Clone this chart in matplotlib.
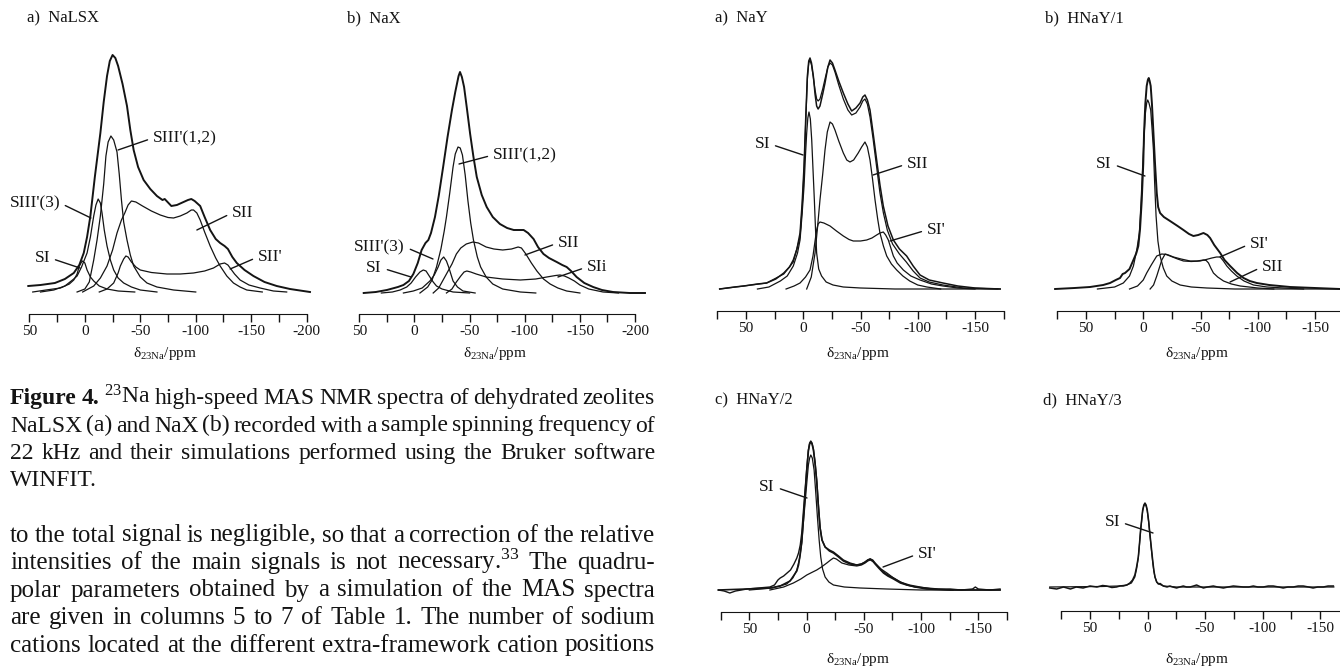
import numpy as np
import matplotlib
matplotlib.use("Agg")
import matplotlib.pyplot as plt
from matplotlib.ticker import MultipleLocator

plt.rcParams["font.family"] = ["Liberation Serif", "DejaVu Serif"]
plt.rcParams["mathtext.fontset"] = "custom"
plt.rcParams["mathtext.rm"] = "Liberation Serif"
plt.rcParams["mathtext.it"] = "Liberation Serif:italic"
plt.rcParams["mathtext.bf"] = "Liberation Serif:bold"
plt.rcParams["mathtext.default"] = "regular"
plt.rcParams["axes.unicode_minus"] = False

INK = "#141414"

# ---- spectra: (ppm, intensity a.u.) ----
# Figure 4a  NaLSX
nalsx_total = [(51, 6), (40, 7), (27, 9), (18, 13), (10, 19), (5, 27), (1, 39), (-2, 55), (-5, 76),
               (-9, 115), (-14, 159), (-17, 190), (-20, 216), (-22.5, 231), (-25, 237), (-27.5, 234),
               (-30, 226), (-34, 208), (-38, 186), (-41, 162), (-44, 142), (-48, 125), (-53, 112),
               (-59, 103), (-65, 96), (-70, 92), (-72, 93), (-78, 86), (-83, 87), (-89, 90), (-93, 92),
               (-96, 93), (-99, 91), (-104, 86), (-108, 75), (-113, 62), (-118, 53), (-122, 49),
               (-126, 46), (-129, 43), (-133, 35), (-137, 29), (-144, 22), (-152, 16), (-162, 10),
               (-173, 6), (-185, 3), (-203, 0)]
nalsx_s3_12 = [(7, 0), (0, 3), (-4, 10), (-8, 32), (-11, 52), (-14, 76), (-17, 108), (-19, 136),
               (-21, 150), (-23.5, 156), (-26, 152), (-29, 140), (-31, 118), (-33, 92), (-35, 70),
               (-38, 52), (-41, 37), (-44, 26), (-50, 15), (-56, 9), (-65, 5), (-80, 2), (-100, 0)]
nalsx_sii = [(2, 0), (-8, 6), (-14, 14), (-20, 26), (-25, 42), (-29, 59), (-33, 72), (-36, 79),
             (-39, 87), (-42, 91), (-46, 90), (-52, 86), (-60, 81), (-68, 77), (-75, 74.5), (-80, 74),
             (-86, 76), (-92, 79), (-96, 82), (-98, 82), (-101, 79), (-104, 72), (-108, 60),
             (-113, 46), (-118, 34), (-122, 26), (-128, 16), (-134, 9), (-140, 5), (-146, 2), (-160, 0)]
nalsx_s3_3 = [(40, 0), (28, 2), (18, 6), (10, 13), (7, 16), (3, 25), (-2, 39), (-5, 55), (-8, 76),
              (-10, 87), (-12, 93), (-14, 89), (-15.5, 79), (-17.5, 62), (-20, 46), (-23, 32),
              (-26, 22), (-30, 14), (-35, 9), (-42, 5), (-50, 2), (-65, 0)]
nalsx_si = [(47, 0), (35, 2), (22, 4), (14, 8), (10, 12), (7, 18), (5, 26), (3, 30), (2, 31), (0, 29),
            (-2, 22), (-5, 15), (-8, 11), (-13, 6), (-20, 3), (-30, 1), (-45, 0)]
nalsx_sii2 = [(-13, 0), (-20, 3), (-26, 9), (-30, 19), (-32, 26), (-35, 33), (-37, 36), (-39, 35),
              (-42, 30), (-46, 25), (-50, 22), (-60, 19.5), (-74, 18), (-86, 18), (-98, 19),
              (-108, 21), (-116, 24), (-122, 28), (-126, 29), (-129, 27), (-131, 24), (-135, 18),
              (-140, 12), (-148, 7), (-158, 4), (-170, 1), (-182, 0)]

# Figure 4b  NaX
nax_total = [(46, 0), (35, 1), (25, 3), (15, 6), (10, 8), (5, 12), (1, 19), (-3, 30), (-6.5, 43),
             (-10, 50), (-12.6, 53), (-15, 60), (-18.6, 76), (-22, 97), (-26, 126), (-30, 156),
             (-34, 183), (-37, 201), (-38.5, 209), (-40, 217), (-41.3, 221), (-43, 216), (-45, 206),
             (-47.5, 185), (-50.5, 159), (-53.5, 136), (-56.5, 116), (-61, 98), (-65.5, 86), (-71, 76),
             (-77.5, 69), (-84, 65), (-90, 63), (-96, 63), (-99, 63), (-103, 60), (-108, 54),
             (-112, 46), (-117, 39), (-122, 35), (-129, 31), (-134, 28), (-138, 26), (-142, 22),
             (-147, 16), (-154, 10), (-162, 6), (-170, 3), (-180, 1), (-195, 0), (-209, 0)]
nax_s3_12 = [(-5, 0), (-12, 6), (-16, 13), (-20, 26), (-24, 44), (-27, 62), (-29, 76), (-32, 100),
             (-35, 126), (-37, 139), (-39.5, 146), (-41.5, 145), (-43.5, 138), (-46, 118),
             (-48.5, 92), (-51, 70), (-53.5, 53), (-57, 36), (-60, 26), (-65, 16), (-71, 9),
             (-80, 4), (-96, 1), (-110, 0)]
nax_sii = [(-17, 0), (-22, 5), (-29, 19), (-34, 29), (-38, 39), (-42, 45), (-47, 49), (-53, 51),
           (-58, 50), (-65, 46), (-72, 44), (-80, 43), (-88, 44), (-94, 46), (-97, 45), (-101, 39),
           (-106, 30), (-111, 22), (-117, 14), (-123, 9), (-130, 5), (-138, 2), (-150, 0)]
nax_sii_i = [(-29, 0), (-34, 4), (-38, 11), (-42, 17), (-45, 21), (-47.5, 22), (-51, 21), (-56, 19),
             (-65, 16), (-80, 14), (-96, 13), (-110, 14), (-120, 16), (-128, 17.5), (-132, 18),
             (-136, 17), (-140, 15), (-145, 12), (-150, 8), (-158, 4), (-171, 1), (-185, 0)]
nax_s3_3 = [(10, 0), (1, 2), (-7, 5), (-14, 12), (-18, 18), (-21.5, 26), (-24, 33), (-26.5, 36),
            (-29, 32), (-31, 26), (-33, 19), (-35, 12), (-39, 6), (-44, 2), (-55, 0)]
nax_si = [(30, 0), (20, 1), (13, 3), (7, 6), (3, 10), (-1, 16), (-5, 21), (-8, 23), (-10.5, 22),
          (-14, 16), (-17, 11), (-20, 7), (-25, 4), (-35, 1), (-50, 0)]

# Figure 5a  NaY
nay_exp = [(73, 0), (60, 2), (52, 3), (40, 5), (32, 6), (24, 10), (17, 16), (12, 22), (8.7, 29),
           (5.5, 40), (2.8, 56), (1, 85), (-0.7, 123), (-2.3, 175), (-3.6, 213), (-4.8, 228),
           (-5.9, 231), (-7.2, 226), (-8.8, 213), (-10.3, 195), (-11.7, 183), (-13, 180),
           (-14.6, 183), (-17, 195), (-19, 206), (-21.5, 222), (-23.4, 229), (-25.5, 226),
           (-27.7, 219), (-31, 208), (-35, 196), (-39, 185), (-42.3, 178), (-46, 181), (-49.6, 186),
           (-52, 192), (-53.9, 194), (-56, 189), (-58.3, 179), (-61, 156), (-64.1, 129), (-67, 104),
           (-69.9, 83), (-74, 63), (-78.7, 49), (-84, 40), (-90.3, 33), (-96, 23), (-102, 14),
           (-110, 9), (-122, 6), (-135, 3), (-150, 1), (-172, 0)]
nay_sim = [(73, 0), (52, 3), (32, 6), (17, 15), (8.7, 27), (2.8, 52), (1, 80), (-0.7, 118),
           (-2.3, 172), (-3.6, 210), (-4.8, 226), (-5.9, 229), (-7.2, 224), (-8.8, 212),
           (-10.3, 199), (-11.7, 190), (-13, 188), (-14.6, 190), (-17, 200), (-19, 210),
           (-21.5, 222), (-23.4, 226), (-25.5, 224), (-27.7, 217), (-31, 204), (-35, 190),
           (-39, 179), (-42.3, 174), (-46, 176), (-49.6, 182), (-52, 188), (-53.9, 190), (-56, 185),
           (-58.3, 172), (-61, 150), (-64.1, 122), (-67, 96), (-70, 76), (-73.4, 59), (-78, 45),
           (-84, 35), (-90, 27), (-96, 18), (-102, 11), (-110, 7), (-122, 4), (-140, 1), (-172, 0)]
nay_si = [(40, 0), (30, 2), (20, 8), (14, 13), (8.7, 23), (5, 36), (2.8, 49), (1, 75), (-0.7, 103),
          (-2, 135), (-3, 156), (-4, 171), (-5, 177), (-6.2, 170), (-7.4, 149), (-8.5, 120),
          (-9.7, 89), (-10.7, 60), (-11.7, 36), (-13.5, 20), (-16, 13), (-20, 7), (-26, 4), (-35, 2),
          (-50, 1), (-80, 0), (-170, 0)]
nay_sii = [(-3, 0), (-7, 12), (-10.3, 36), (-12.5, 62), (-14.6, 89), (-17, 115), (-19, 139),
           (-21, 157), (-23.4, 167), (-25.5, 165), (-27.7, 159), (-31, 148), (-35, 136), (-38, 129),
           (-40.8, 127), (-44, 129), (-48, 136), (-51, 142), (-53.9, 147), (-56, 142), (-58.3, 129),
           (-60.5, 110), (-62.7, 89), (-65, 70), (-67, 56), (-70, 43), (-72.9, 33), (-77, 25),
           (-81.6, 19), (-87, 13), (-93, 8), (-100, 4), (-108, 2), (-120, 0)]
nay_si1 = [(15, 0), (8, 3), (2.8, 6), (-2, 12), (-5.9, 19), (-8.5, 33), (-10.3, 48), (-11.7, 59),
           (-13, 65), (-14.6, 67), (-18, 66), (-23.4, 63), (-29, 58), (-35, 53), (-40, 49.5),
           (-43.7, 48), (-50, 48), (-55.4, 49), (-60, 51), (-64.1, 54), (-67, 56), (-69.9, 57),
           (-72, 54), (-74.3, 49), (-76.5, 41), (-78.7, 33), (-82, 26), (-87.4, 19), (-94, 13),
           (-102, 9), (-112, 5), (-122, 3), (-135, 1), (-150, 0)]

# Figure 5b  HNaY/1
hnay1_total = [(77, 0), (60, 1), (46.5, 2), (35, 4), (29, 6), (24, 9), (20.3, 11), (18, 15),
               (15.9, 16), (12, 20), (8.6, 29), (6, 36), (4.3, 43), (2.8, 60), (1.3, 89), (0, 125),
               (-0.7, 156), (-1.8, 185), (-3, 203), (-4, 209), (-4.8, 211), (-5.6, 208), (-6.5, 203),
               (-7.6, 185), (-8.9, 156), (-10.3, 125), (-11.8, 96), (-13, 82), (-14.7, 76), (-18, 72),
               (-23.4, 68), (-30, 63), (-35.1, 59), (-40, 55), (-43.8, 53), (-48, 54), (-52.6, 56),
               (-56, 54), (-58.4, 51), (-62, 44), (-67.2, 36), (-71, 29), (-75.9, 23), (-82, 16),
               (-87.6, 11), (-93, 8), (-99.2, 6), (-110, 4), (-128.4, 2), (-150, 1), (-172, 0)]
hnay1_si = [(40, 0), (25, 2), (17.4, 6), (12, 13), (8.6, 23), (5.5, 40), (3.4, 56), (2, 85),
            (0.5, 123), (-0.8, 155), (-1.9, 176), (-3, 186), (-3.9, 189), (-5, 186), (-6.5, 179),
            (-7.7, 160), (-8.9, 139), (-10, 105), (-11.2, 73), (-12.8, 48), (-14.7, 33), (-17.5, 21),
            (-20.5, 13), (-25, 8), (-32.2, 4), (-42, 2), (-55.5, 1), (-80, 0), (-172, 0)]
hnay1_si1 = [(12, 0), (5, 3), (0, 9), (-3, 16), (-7, 24), (-11.8, 33), (-16.2, 35), (-20, 34.5),
             (-23.4, 33), (-30, 30), (-35.1, 28), (-42, 27.5), (-49.7, 28), (-55, 29.5), (-59.9, 31),
             (-64, 32), (-67.2, 32), (-70, 28), (-73, 23), (-77, 18), (-81.7, 13), (-88, 8),
             (-96.3, 4), (-108, 2), (-122.6, 1), (-140, 0)]
hnay1_sii = [(-6, 0), (-9, 4), (-11.8, 13), (-14, 21), (-16.2, 29), (-19.1, 35), (-22, 34),
             (-26.4, 32), (-33, 30), (-40.9, 28), (-47, 28), (-52.6, 29), (-55, 28.5), (-57, 26),
             (-59, 21), (-61.3, 16), (-65, 12), (-70.1, 8), (-77, 5), (-84.7, 3), (-100, 1), (-114, 0)]

# Figure 5c  HNaY/2
hnay2_exp = [(77, 0), (72, -1), (67, -3), (62, -1), (57, 0), (52, 1), (42, 2), (32, 3), (28, 5),
             (25, 10), (23, 12), (20, 14), (17, 17), (14, 20), (11, 26), (8.5, 32), (7, 37),
             (5.5, 45), (4.2, 57), (2.8, 78), (1.3, 100), (-0.2, 122), (-1.6, 140), (-2.7, 147),
             (-3.7, 149), (-4.8, 147), (-6, 141), (-7.4, 128), (-8.9, 110), (-10.3, 86), (-11.8, 63),
             (-13.5, 50), (-16.2, 43), (-20, 40), (-23.5, 38), (-28, 34), (-32.2, 30), (-38, 27),
             (-43.9, 25), (-48, 26), (-51.2, 28), (-53.5, 30), (-55.6, 31), (-57.8, 30), (-59.9, 27),
             (-63, 23), (-67.2, 18), (-71, 15), (-76, 12), (-82, 8), (-87.6, 5), (-95, 3), (-105, 2),
             (-115, 1), (-125.5, 1), (-135, 0), (-145, 1), (-147.4, 3), (-150, 1), (-160, 0), (-169, 1)]
hnay2_sim = [(77, 0), (52, 1), (32, 2), (23, 4), (14.4, 9), (8.5, 19), (7, 25), (5.5, 36), (4.2, 48),
             (2.8, 70), (1.3, 95), (-0.2, 120), (-1.6, 139), (-2.7, 146), (-3.7, 148), (-4.8, 146),
             (-6, 140), (-7.4, 127), (-8.9, 108), (-10.3, 84), (-11.8, 62), (-13.5, 50), (-16.2, 43),
             (-20, 39), (-23.5, 37), (-28, 33), (-32.2, 29), (-38, 26), (-43.9, 25), (-48, 26),
             (-51.2, 28), (-53.5, 30), (-55.6, 31), (-57.8, 29), (-59.9, 26), (-63, 22), (-67.2, 17),
             (-71, 14), (-76, 11), (-82, 7), (-87.6, 5), (-95, 3), (-105, 1), (-125, 0), (-169, 0)]
hnay2_si = [(50, 0), (30, 2), (17.3, 6), (12, 12), (8.5, 20), (6, 32), (4.2, 47), (2.8, 67), (1.3, 87),
            (-0.2, 107), (-1.6, 125), (-2.7, 132), (-3.7, 135), (-5, 132), (-6.6, 120), (-8, 98),
            (-9.5, 73), (-11, 50), (-12.4, 33), (-14, 21), (-16.2, 13), (-19.5, 8), (-23.5, 5),
            (-33, 3), (-46.8, 2), (-70, 1), (-100, 0), (-169, 0)]
hnay2_si1 = [(32, 0), (20, 3), (11.5, 7), (5, 11), (-0.2, 15), (-4.5, 17.5), (-8.9, 20), (-13, 23),
             (-17.7, 27), (-21, 30), (-23.5, 32), (-26, 31), (-30.8, 27), (-37, 25), (-43.9, 24),
             (-48, 25), (-51.2, 27), (-53.5, 29), (-55.6, 30), (-58, 28.5), (-61.4, 25), (-65, 21),
             (-70.2, 17), (-76, 12), (-81.8, 8), (-90, 5), (-99.3, 3), (-110, 1), (-128, 0)]

# Figure 5d  HNaY/3
hnay3_exp = [(85, -1), (79, -2), (73, 0), (67, -2), (62, 0), (56, -1), (50, 1), (44, 0), (39, 1.5),
             (35.6, 1), (31, -0.5), (27, 0), (24, 1), (21, 1), (18, 2), (15.3, 4), (13, 7), (11, 12),
             (9.5, 20), (8, 30), (7, 43), (6, 57), (5, 68), (4.2, 77), (3.2, 82), (2.2, 84), (1.2, 82),
             (0.2, 77), (-1, 66), (-2.1, 53), (-3.3, 40), (-4.5, 27), (-5.5, 17), (-6.5, 10), (-8, 5),
             (-9.4, 3), (-11, 3.5), (-13.7, 1), (-17, 0), (-19.5, 1), (-22, 0), (-25.3, -1), (-28, 0),
             (-31.1, 1), (-34, 0), (-37, 0), (-40, 1), (-42.7, 2), (-45.5, 0.5), (-48.6, -1), (-52, 0),
             (-57.2, 1), (-61, 0), (-66, -1), (-70, 0), (-74.6, 1), (-79, 0.5), (-83.3, 0), (-88, 0),
             (-92, 1), (-96, 0), (-100.7, 0), (-105, 1), (-109.4, 1), (-114, 0), (-118, -1), (-122, 0),
             (-126.8, 0), (-131, 1), (-135.5, 1), (-140, 0), (-144, -1), (-148, 0), (-152.9, 0),
             (-157, 1), (-161.6, 1)]
hnay3_si = [(85, 0), (40, 0.5), (25, 1), (18, 2), (14, 4), (11, 10), (9.5, 18), (8, 29), (7, 42),
            (6, 56), (5, 67), (4.2, 76), (3.2, 81), (2.2, 83), (1.2, 81), (0.2, 76), (-1, 65),
            (-2.1, 52), (-3.3, 38), (-4.5, 25), (-5.5, 16), (-6.5, 10), (-8, 5), (-10, 3), (-14, 1),
            (-25, 0), (-162, 0)]

caption_lines = [
    "Figure 4. $^{23}$Na high-speed MAS NMR spectra of dehydrated zeolites",
    "NaLSX (a) and NaX (b) recorded with a sample spinning frequency of",
    "22 kHz and their simulations performed using the Bruker software",
    "WINFIT.",
]
body_lines = [
    "to the total signal is negligible, so that a correction of the relative",
    "intensities of the main signals is not necessary.$^{33}$ The quadru-",
    "polar parameters obtained by a simulation of the MAS spectra",
    "are given in columns 5 to 7 of Table 1. The number of sodium",
    "cations located at the different extra-framework cation positions",
]

W, H = 1340, 667
fig = plt.figure(figsize=(W / 100, H / 100), dpi=100)


def panel(px50, scale, xlim, base, axis_y, top, bounds):
    # place an axes so that 1 intensity unit is one pixel and ppm runs right to left
    x0 = px50 - (xlim[0] - 50) * scale
    x1 = px50 + (50 - xlim[1]) * scale
    ax = fig.add_axes([x0 / W, 1 - axis_y / H, (x1 - x0) / W, (axis_y - top) / H])
    ax.set_xlim(*xlim)
    ax.set_ylim(-(axis_y - base), base - top)
    for s in ("left", "right", "top"):
        ax.spines[s].set_visible(False)
    ax.spines["bottom"].set_bounds(*bounds)
    ax.spines["bottom"].set_color(INK)
    ax.set_yticks([])
    ax.xaxis.set_major_locator(MultipleLocator(50))
    ax.xaxis.set_minor_locator(MultipleLocator(25))
    ax.tick_params(axis="x", which="both", direction="out", length=6, width=1.0, color=INK)
    ax.tick_params(axis="x", which="major", labelsize=11, pad=2, labelcolor=INK)
    ax.patch.set_alpha(0)
    return ax


def trace(ax, pts, lw=0.9):
    p = np.array(pts, dtype=float)
    ax.plot(p[:, 0], p[:, 1], color=INK, lw=lw, solid_joinstyle="round")


def tag(ax, text, xy, xytext, left=True):
    ax.annotate(text, xy=xy, xytext=xytext, ha="right" if left else "left", va="center",
                fontsize=12.5, color=INK,
                arrowprops=dict(arrowstyle="-", color=INK, lw=1.0, shrinkA=2, shrinkB=0,
                                relpos=(1, 0.5) if left else (0, 0.5)))


def ftext(x, y, s, **kw):
    return fig.text(x / W, 1 - y / H, s, color=INK, **kw)


# --- Figure 4a ---
ax = panel(29.4, 1.109, (60, -215), 292, 314, 45, (50, -200))
trace(ax, nalsx_total, 1.4)
for c in (nalsx_s3_12, nalsx_sii, nalsx_s3_3, nalsx_si, nalsx_sii2):
    trace(ax, c)
tag(ax, "SIII'(1,2)", (-29.9, 142), (-61.4, 154), left=False)
tag(ax, "SIII'(3)", (-5.5, 74), (22.4, 89))
tag(ax, "SI", (4.4, 24), (31.4, 34))
tag(ax, "SII", (-101, 62), (-132.7, 79), left=False)
tag(ax, "SII'", (-131, 23), (-156, 35), left=False)

# --- Figure 4b ---
ax = panel(359.3, 1.103, (60, -215), 293, 314, 45, (50, -200))
trace(ax, nax_total, 1.4)
for c in (nax_s3_12, nax_sii, nax_sii_i, nax_s3_3, nax_si):
    trace(ax, c)
tag(ax, "SIII'(1,2)", (-40.4, 129), (-71.2, 138), left=False)
tag(ax, "SIII'(3)", (-16.8, 34), (8.6, 46))
tag(ax, "SI", (3.1, 16), (29.5, 25))
tag(ax, "SII", (-100.2, 38), (-130.1, 50), left=False)
tag(ax, "SIi", (-130.1, 16), (-156.4, 26), left=False)

# --- Figure 5a ---
ax = panel(746, 1.145, (78, -178), 289, 311, 45, (75, -175))
trace(ax, nay_exp, 1.1)
trace(ax, nay_sim, 0.9)
for c in (nay_si, nay_sii, nay_si1):
    trace(ax, c)
tag(ax, "SI", (0.2, 134), (29, 145))
tag(ax, "SII", (-60.9, 114), (-90.6, 125), left=False)
tag(ax, "SI'", (-75.8, 48), (-108, 59), left=False)

# --- Figure 5b ---
ax = panel(1086, 1.145, (78, -178), 289, 311, 45, (75, -175))
trace(ax, hnay1_total, 1.4)
for c in (hnay1_si, hnay1_si1, hnay1_sii):
    trace(ax, c)
tag(ax, "SI", (-1.5, 113), (27.3, 125))
tag(ax, "SI'", (-67, 32), (-93.2, 45), left=False)
tag(ax, "SII", (-75.8, 7), (-103.7, 22), left=False)

# --- Figure 5c ---
ax = panel(749.3, 1.145, (78, -178), 590, 612, 420, (75, -175))
trace(ax, hnay2_exp, 1.0)
trace(ax, hnay2_sim, 1.2)
for c in (hnay2_si, hnay2_si1):
    trace(ax, c)
tag(ax, "SI", (-0.4, 92), (27.6, 103))
tag(ax, "SI'", (-66.8, 23), (-97.3, 36), left=False)

# --- Figure 5d ---
ax = panel(1090, 1.15, (88, -178), 587, 611, 420, (75, -175))
trace(ax, hnay3_exp, 1.1)
trace(ax, hnay3_si, 0.9)
tag(ax, "SI", (-4.8, 54), (23.9, 65))

# panel titles and axis titles
for x, y, s in [(27, 18, "a)  NaLSX"), (347, 18, "b)  NaX"), (715, 18, "a)  NaY"),
                (1045, 18, "b)  HNaY/1"), (715, 400, "c)  HNaY/2"), (1043, 400, "d)  HNaY/3")]:
    ftext(x, y, s, fontsize=12, va="center", ha="left")
for x, y in [(165, 354), (495, 354), (858, 354), (1197, 354), (858, 660), (1197, 660)]:
    ftext(x, y, r"δ$_{23Na}$/ppm", fontsize=11, va="center", ha="center")

# justified text column on the left
renderer = fig.canvas.get_renderer()


def justify(line, baseline, size, x0=10, x1=655, bold=0, stretch=True):
    arts = []
    for i, w in enumerate(line.split()):
        t = ftext(0, baseline, w, fontsize=size, va="baseline", ha="left",
                  fontweight="bold" if i < bold else "normal")
        arts.append((t, t.get_window_extent(renderer).width))
    total = sum(wd for _, wd in arts)
    if stretch and len(arts) > 1:
        gap = (x1 - x0 - total) / (len(arts) - 1)
    else:
        gap = size * 100 / 72 * 0.25
    x = x0
    for t, wd in arts:
        t.set_x(x / W)
        x += wd + gap


step = 27.5
y0 = 404
for i, line in enumerate(caption_lines):
    justify(line, y0 + i * step, 17, bold=2 if i == 0 else 0,
            stretch=i < len(caption_lines) - 1)
for i, line in enumerate(body_lines):
    justify(line, y0 + (i + 5) * step, 18)

fig.savefig("out.png", dpi=100)
